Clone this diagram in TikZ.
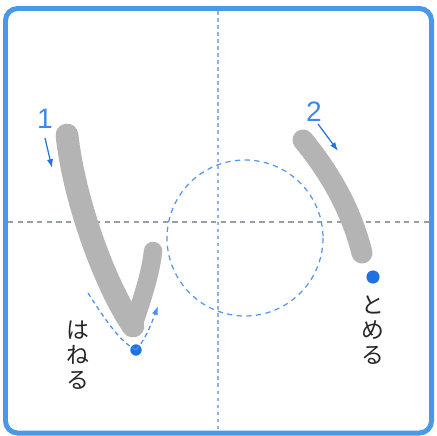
\documentclass[tikz,border=0pt]{standalone}
\usepackage{fontspec}
\newfontfamily\jpfont{Noto Sans CJK JP}
\newfontfamily\numfont{Liberation Sans}
\usetikzlibrary{arrows.meta, positioning}

\definecolor{frameblue}{RGB}{74,152,232}
\definecolor{inkblue}{RGB}{30,115,225}
\definecolor{guidegray}{RGB}{150,158,170}
\definecolor{guideblue}{RGB}{140,180,230}
\definecolor{brushgray}{RGB}{180,180,180}

\begin{document}
\begin{tikzpicture}[
  x=0.02cm, y=-0.02cm,
  every node/.style={font=\jpfont},
  frame/.style={draw=frameblue, line width=0.1cm, rounded corners=0.24cm},
  guide/.style={draw=guidegray, line width=0.6pt, dash pattern=on 3pt off 2.5pt},
  vguide/.style={guide, draw=guideblue, dash pattern=on 2pt off 2pt},
  ring/.style={draw=inkblue!75, line width=0.7pt, dash pattern=on 3pt off 2.5pt},
  brush/.style={draw=brushgray, line cap=round, line join=round},
  hane/.style={draw=inkblue!80, line width=0.7pt, dash pattern=on 2.5pt off 2pt},
  order/.style={-{Latex[length=5pt, width=3.5pt]}, draw=inkblue, line width=0.7pt},
  num/.style={font=\numfont\fontsize{16}{16}\selectfont, text=inkblue!85},
  vtext/.style={font=\jpfont\fontsize{13}{14.3}\selectfont, align=center, inner sep=0pt, text=black!85},
  dot/.style={circle, fill=inkblue, inner sep=0pt}
]
\useasboundingbox (0,0) rectangle (437,436);

% === FRAME AND GUIDES ===
\draw[frame] (5.5,8.5) rectangle (431.5,433);
\draw[guide]  (8,222) -- (429,222);
\draw[vguide] (218,11) -- (218,430);
\draw[ring] (245,238) circle[radius=78];

% === STROKE 1 (hane) ===
\coordinate (s1top) at (67,135);
\coordinate (s1low) at (133,326);
\coordinate (s1end) at (153,251);
\draw[brush, line width=13pt] (s1top) .. controls (74,200) and (105,285) .. (s1low);
\draw[brush, line width=10.5pt] (s1low) .. controls (142,300) and (151,272) .. (s1end);

% === STROKE 2 (tome) ===
\coordinate (s2top) at (303,140);
\coordinate (s2end) at (362,253);
\draw[brush, line width=12pt] (s2top) .. controls (326,168) and (350,205) .. (s2end);

% === STROKE ORDER ===
\node[num] (n1) at (45,119) {1};
\node[num] (n2) at (314,112) {2};
\coordinate (a1s) at (45,138);
\coordinate (a1e) at (52,168);
\coordinate (a2s) at (318,124);
\coordinate (a2e) at (338,151);
\draw[order] (a1s) -- (a1e);
\draw[order] (a2s) -- (a2e);

% === HANE MARK ===
\node[dot, minimum size=6.5pt] (d1) at (136,350) {};
\coordinate (h1s) at (88,293);
\coordinate (h1e) at (158,306);
\draw[hane] (h1s) .. controls (104,318) and (120,342) .. (d1.center);
\draw[hane, -{Latex[length=5pt, width=3.5pt]}] (d1.center) .. controls (145,340) and (151,325) .. (h1e);
\node[vtext] (haneru) at (78,355) {は\\ね\\る};

% === TOME MARK ===
\node[dot, minimum size=7.5pt] (d2) at (373,277) {};
\node[vtext] (tomeru) at (373,330) {と\\め\\る};

\end{tikzpicture}
\end{document}
